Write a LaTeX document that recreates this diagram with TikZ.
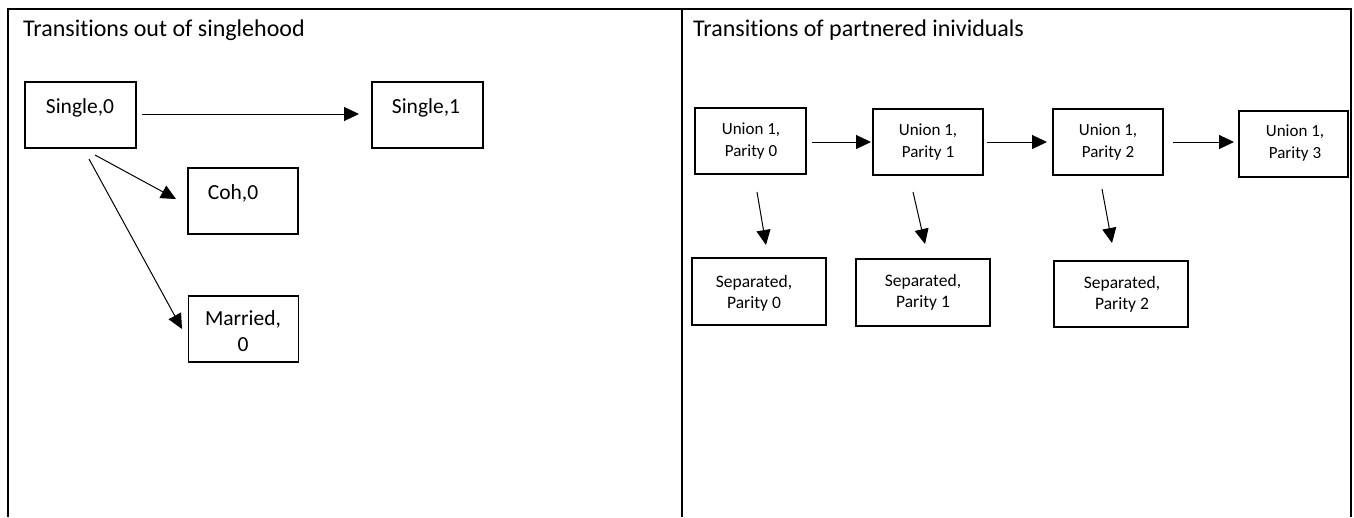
\documentclass[tikz,border=0pt]{standalone}
\usepackage{fontspec}
\setmainfont{Carlito}[Ligatures=NoCommon]
\usetikzlibrary{arrows.meta}
\begin{document}
\begin{tikzpicture}[x=1pt,y=-1pt,
  frame/.style={line width=2pt,black},
  statebox/.style={draw,line width=1.2pt,inner sep=0pt,minimum width=110pt,minimum height=66pt},
  widebox/.style={statebox,minimum width=134pt,minimum height=67pt},
  bigtxt/.style={inner sep=0pt,font=\fontsize{21.5}{26}\selectfont,align=center},
  smalltxt/.style={inner sep=0pt,font=\fontsize{17}{22.5}\selectfont,align=center},
  sepTxt/.style={inner sep=0pt,font=\fontsize{17.5}{21}\selectfont,align=center},
  title/.style={inner sep=0pt,anchor=base west,font=\fontsize{24}{28}\selectfont},
  arr/.style={line width=1pt,-{Triangle[length=15pt,width=14pt]}}]
\useasboundingbox (0,0) rectangle (1354,517);
\fill[white] (0,0) rectangle (1354,517);
% frame
\draw[frame] (8,517) -- (8,9) -- (1351,9) -- (1351,517);
\draw[frame] (682,9) -- (682,517);
% titles
\node[title] (t1) at (23,36) {Transitions out of singlehood};
\node[title] (t2) at (693,36) {Transitions of partnered inividuals};
% left panel boxes
\node[statebox,minimum width=111pt] (s0) at (80.5,115) {};
\node[statebox,minimum width=111pt] (s1) at (427.5,115) {};
\node[statebox] (c0) at (243,201) {};
\node[statebox] (m0) at (243.5,329) {};
\node[bigtxt,anchor=base] (s0t) at (80,113) {Single,0};
\node[bigtxt,anchor=base] (s1t) at (426,113) {Single,1};
\node[bigtxt,anchor=base] (c0t) at (233,199) {Coh,0};
\node[bigtxt] (m0t) at (243,331) {Married,\\0};
% left panel arrows
\coordinate (a1s) at (142,114); \coordinate (a1e) at (359,114);
\coordinate (a2s) at (95,155);  \coordinate (a2e) at (176,199);
\coordinate (a3s) at (89,159);  \coordinate (a3e) at (182,329);
\draw[arr] (a1s) -- (a1e);
\draw[arr] (a2s) -- (a2e);
\draw[arr] (a3s) -- (a3e);
% right panel boxes
\node[statebox,minimum width=111pt] (u0) at (750.5,141) {};
\node[statebox] (u1) at (928,142) {};
\node[statebox] (u2) at (1108,142) {};
\node[statebox,minimum width=109pt] (u3) at (1293.5,144) {};
\node[widebox] (p0) at (759,291.5) {};
\node[widebox] (p1) at (923,292.5) {};
\node[widebox,minimum height=66pt] (p2) at (1121,294) {};
\node[smalltxt] (u0t) at (751,141) {Union 1,\\Parity 0};
\node[smalltxt] (u1t) at (928,142) {Union 1,\\Parity 1};
\node[smalltxt] (u2t) at (1108,142) {Union 1,\\Parity 2};
\node[smalltxt] (u3t) at (1295,143) {Union 1,\\Parity 3};
\node[sepTxt] (p0t) at (754,293) {Separated,\\Parity 0};
\node[sepTxt] (p1t) at (923,292.5) {Separated,\\Parity 1};
\node[sepTxt] (p2t) at (1122,294) {Separated,\\Parity 2};
% right panel arrows
\coordinate (h1s) at (812,142);  \coordinate (h1e) at (871,142);
\coordinate (h2s) at (987,142);  \coordinate (h2e) at (1047,142);
\coordinate (h3s) at (1173,142); \coordinate (h3e) at (1234,142);
\coordinate (d1s) at (757,192);  \coordinate (d1e) at (766,245);
\coordinate (d2s) at (913,192);  \coordinate (d2e) at (925,244);
\coordinate (d3s) at (1102,189); \coordinate (d3e) at (1112,243);
\draw[arr] (h1s) -- (h1e);
\draw[arr] (h2s) -- (h2e);
\draw[arr] (h3s) -- (h3e);
\draw[arr] (d1s) -- (d1e);
\draw[arr] (d2s) -- (d2e);
\draw[arr] (d3s) -- (d3e);
\end{tikzpicture}
\end{document}
